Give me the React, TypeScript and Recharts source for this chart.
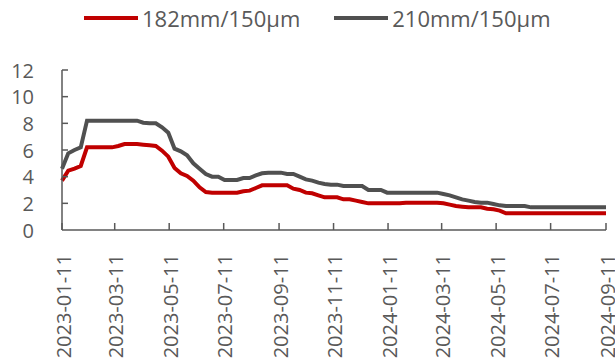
import { LineChart, Line, XAxis, YAxis } from 'recharts';

const dates = [
  '2023-01-11', '2023-01-18', '2023-01-25', '2023-02-01', '2023-02-08', '2023-02-15', '2023-02-22',
  '2023-03-01', '2023-03-08', '2023-03-15', '2023-03-22', '2023-03-29', '2023-04-05', '2023-04-12',
  '2023-04-19', '2023-04-26', '2023-05-03', '2023-05-10', '2023-05-17', '2023-05-24', '2023-05-31',
  '2023-06-07', '2023-06-14', '2023-06-21', '2023-06-28', '2023-07-05', '2023-07-12', '2023-07-19',
  '2023-07-26', '2023-08-02', '2023-08-09', '2023-08-16', '2023-08-23', '2023-08-30', '2023-09-06',
  '2023-09-13', '2023-09-20', '2023-09-27', '2023-10-04', '2023-10-11', '2023-10-18', '2023-10-25',
  '2023-11-01', '2023-11-08', '2023-11-15', '2023-11-22', '2023-11-29', '2023-12-06', '2023-12-13',
  '2023-12-20', '2023-12-27', '2024-01-03', '2024-01-10', '2024-01-17', '2024-01-24', '2024-01-31',
  '2024-02-07', '2024-02-14', '2024-02-21', '2024-02-28', '2024-03-06', '2024-03-13', '2024-03-20',
  '2024-03-27', '2024-04-03', '2024-04-10', '2024-04-17', '2024-04-24', '2024-05-01', '2024-05-08',
  '2024-05-15', '2024-05-22', '2024-05-29', '2024-06-05', '2024-06-12', '2024-06-19', '2024-06-26',
  '2024-07-03', '2024-07-10', '2024-07-17', '2024-07-24', '2024-07-31', '2024-08-07', '2024-08-14',
  '2024-08-21', '2024-08-28', '2024-09-04', '2024-09-11',
];

const p182 = [
  3.7, 4.45, 4.6, 4.8,
  6.2, 6.2, 6.2, 6.2, 6.2,
  6.3, 6.45, 6.45, 6.45, 6.4, 6.35, 6.3,
  5.95, 5.5, 4.65, 4.25, 4.05, 3.7, 3.2, 2.85,
  2.8, 2.8, 2.8, 2.8, 2.8,
  2.9, 2.95, 3.15,
  3.35, 3.35, 3.35, 3.35, 3.35,
  3.1, 3.0, 2.8, 2.75, 2.6, 2.45, 2.45, 2.45, 2.3, 2.3, 2.2, 2.1,
  2.0, 2.0, 2.0, 2.0, 2.0, 2.0,
  2.05, 2.05, 2.05, 2.05, 2.05, 2.05,
  2.0, 1.9, 1.8, 1.75, 1.7, 1.7, 1.7, 1.6, 1.55, 1.45, 1.25,
  1.25, 1.25, 1.25, 1.25, 1.25, 1.25, 1.25, 1.25, 1.25, 1.25, 1.25, 1.25, 1.25, 1.25, 1.25, 1.25,
];

const p210 = [
  4.6, 5.75, 6.0, 6.2,
  8.2, 8.2, 8.2, 8.2, 8.2, 8.2, 8.2, 8.2, 8.2,
  8.05, 8.0, 8.0, 7.7, 7.3,
  6.1, 5.9, 5.6, 5.0, 4.6, 4.2, 4.0, 4.0, 3.75, 3.75, 3.75,
  3.9, 3.9, 4.1, 4.25, 4.3, 4.3, 4.3, 4.2, 4.2,
  4.0, 3.8, 3.7, 3.55, 3.45, 3.4, 3.4, 3.3, 3.3, 3.3, 3.3,
  3.0, 3.0, 3.0,
  2.8, 2.8, 2.8, 2.8, 2.8, 2.8, 2.8, 2.8, 2.8,
  2.7, 2.6, 2.45, 2.3, 2.2, 2.1, 2.05, 2.05, 1.95, 1.85, 1.8,
  1.8, 1.8, 1.8,
  1.7, 1.7, 1.7, 1.7, 1.7, 1.7, 1.7, 1.7, 1.7, 1.7, 1.7, 1.7, 1.7,
];

const tickLabels = [
  '2023-01-11', '2023-03-11', '2023-05-11', '2023-07-11', '2023-09-11', '2023-11-11',
  '2024-01-11', '2024-03-11', '2024-05-11', '2024-07-11', '2024-09-11',
];
const yTicks = [0, 2, 4, 6, 8, 10, 12];

const toTime = (s: string) => new Date(s).getTime();
const data = dates.map((d, i) => ({ t: toTime(d), a: p182[i], b: p210[i] }));

const FONT = '"Open Sans", "Noto Sans", sans-serif';
const AXIS = '#595959';
const RED = '#C00000';
const GRAY = '#505050';

const XTick = (props: any) => {
  const { x, y, payload } = props;
  const label = new Date(payload.value).toISOString().slice(0, 10);
  return (
    <g>
      <line x1={x} x2={x} y1={y} y2={y - 7} stroke={AXIS} strokeWidth={1.5} />
      <text
        x={x + 1}
        y={y + 24}
        transform={`rotate(-90, ${x + 1}, ${y + 24})`}
        textAnchor="end"
        dominantBaseline="central"
        fill={AXIS}
        fontSize={20}
        fontFamily={FONT}
      >
        {label}
      </text>
    </g>
  );
};

const YTick = (props: any) => {
  const { x, y, payload } = props;
  return (
    <g>
      {payload.value !== 0 && <line x1={x} x2={x + 6} y1={y} y2={y} stroke={AXIS} strokeWidth={1.5} />}
      <text x={x - 28} y={y} textAnchor="end" dominantBaseline="central" fill={AXIS} fontSize={20} fontFamily={FONT}>
        {payload.value}
      </text>
    </g>
  );
};

const LegendItem = ({ color, label }: { color: string; label: string }) => (
  <div style={{ display: 'flex', alignItems: 'center' }}>
    <div style={{ width: 54, height: 4, background: color, marginRight: 4 }} />
    <span style={{ fontSize: 22, color: AXIS, fontFamily: FONT }}>{label}</span>
  </div>
);

export default function App() {
  return (
    <div style={{ position: 'absolute', left: 0, top: 0, width: 615, height: 362, background: '#fff' }}>
      <div style={{ position: 'absolute', left: 84, top: 3, display: 'flex', gap: 34 }}>
        <LegendItem color={RED} label="182mm/150µm" />
        <LegendItem color={GRAY} label="210mm/150µm" />
      </div>
      <LineChart width={615} height={362} data={data} margin={{ top: 70, right: 9, left: 0, bottom: 0 }}>
        <XAxis
          dataKey="t"
          type="number"
          domain={[toTime(tickLabels[0]), toTime(tickLabels[tickLabels.length - 1])]}
          ticks={tickLabels.map(toTime)}
          tick={<XTick />}
          tickSize={0}
          tickMargin={0}
          tickLine={false}
          axisLine={{ stroke: AXIS, strokeWidth: 1.5 }}
          height={132}
          interval={0}
        />
        <YAxis
          domain={[0, 12]}
          ticks={yTicks}
          tick={<YTick />}
          tickSize={0}
          tickMargin={0}
          tickLine={false}
          axisLine={{ stroke: AXIS, strokeWidth: 1.5 }}
          width={62}
          interval={0}
        />
        <Line type="linear" dataKey="a" stroke={RED} strokeWidth={4} dot={false} isAnimationActive={false} />
        <Line type="linear" dataKey="b" stroke={GRAY} strokeWidth={4} dot={false} isAnimationActive={false} />
      </LineChart>
    </div>
  );
}
